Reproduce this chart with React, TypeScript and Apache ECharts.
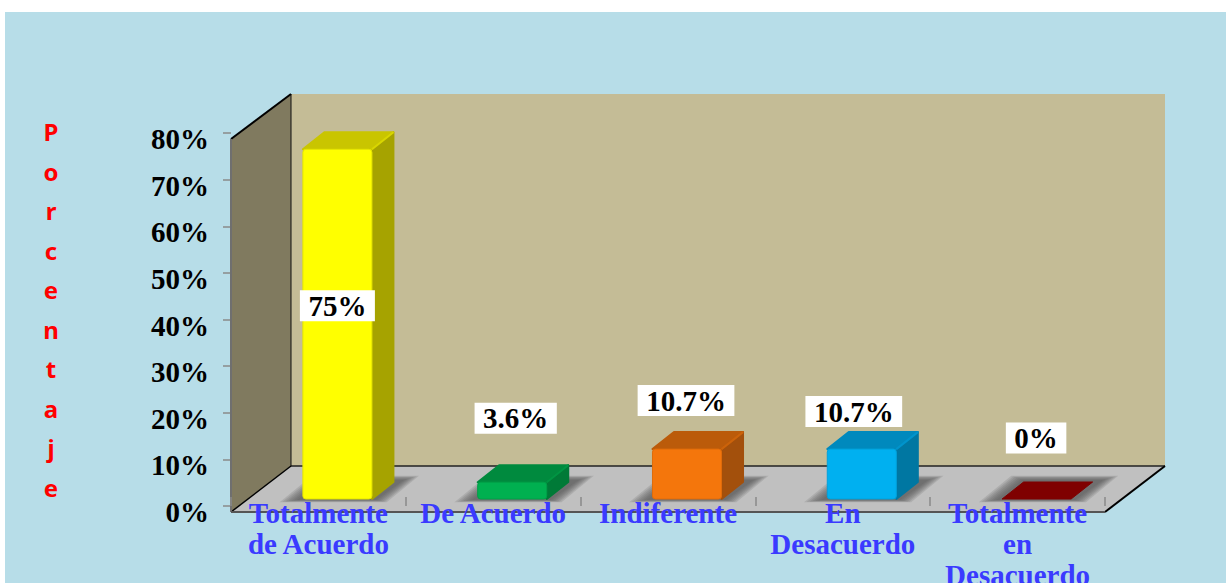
import React, { useEffect, useRef } from "react";
import * as echarts from "echarts";

const categories = [
  "Totalmente\nde Acuerdo",
  "De Acuerdo",
  "Indiferente",
  "En\nDesacuerdo",
  "Totalmente\nen\nDesacuerdo",
];
const percentages = [75, 3.6, 10.7, 10.7, 0];
const yTickMax = 80;
const yTickStep = 10;
const yTitle = "Porcentaje";

const FRONT = ["#ffff00", "#00b050", "#f4760c", "#00b0f0", "#7f0000"];
const TOP = ["#c9c500", "#008a3e", "#bb5b0a", "#0089bd", "#7f0000"];
const SIDE = ["#a6a300", "#007a37", "#a3500c", "#0077a2", "#7f0000"];
const EDGE = ["#e4e400", "#00a048", "#e06c0a", "#00a2dc", "#7f0000"];
// label centre relative to the top-centre of each bar's front face
const LABEL_NUDGE = [[0, 156.5], [3.5, -64], [-1, -48.5], [-8, -37.5], [-0.5, -61]];

const SERIF = '"Liberation Serif", "DejaVu Serif", serif';

function renderScene(params: any, api: any) {
  const g = params.coordSys;
  const x0 = g.x;
  const x1 = g.x + g.width;
  const top = g.y + 6;
  const bottom = g.y + g.height + 6;
  const dx = 60;
  const dy = 46;
  return {
    type: "group",
    children: [
      {
        type: "polygon",
        shape: { points: [[x0, top], [x0 + dx, top - 45], [x0 + dx, bottom - dy], [x0, bottom]] },
        style: { fill: "#807a5f" },
      },
      {
        type: "rect",
        shape: { x: x0 + dx, y: top - 45, width: g.width, height: g.height + 45 - dy },
        style: { fill: "#c4bc96" },
      },
      {
        type: "polygon",
        shape: { points: [[x0, bottom], [x0 + dx, bottom - dy], [x1 + dx, bottom - dy], [x1, bottom]] },
        style: { fill: "#c0c0c0" },
      },
      { type: "line", shape: { x1: x0 + dx, y1: bottom - dy, x2: x1 + dx, y2: bottom - dy }, style: { stroke: "#222", lineWidth: 1.5 } },
      { type: "line", shape: { x1: x0 + dx, y1: top - 45, x2: x0 + dx, y2: bottom - dy }, style: { stroke: "#111", lineWidth: 1 } },
      { type: "line", shape: { x1: x0, y1: top, x2: x0 + dx, y2: top - 45 }, style: { stroke: "#000", lineWidth: 2 } },
      { type: "line", shape: { x1: x0, y1: bottom, x2: x0 + dx, y2: bottom - dy }, style: { stroke: "#000", lineWidth: 1.5 } },
      { type: "line", shape: { x1: x1, y1: bottom, x2: x1 + dx, y2: bottom - dy }, style: { stroke: "#000", lineWidth: 2 } },
      { type: "line", shape: { x1: x0, y1: top, x2: x0, y2: bottom }, style: { stroke: "#6f6f6f", lineWidth: 2 } },
      { type: "line", shape: { x1: x0, y1: bottom, x2: x1, y2: bottom }, style: { stroke: "#555", lineWidth: 2 } },
    ],
  };
}

function softShadow(l: number, r: number, base: number) {
  const layers: any[] = [];
  for (let k = 6; k >= 0; k--) {
    const e = k * 1.8;
    layers.push({
      type: "polygon",
      shape: {
        points: [
          [l - 6 - e * 1.6, base + 1 + e * 0.2],
          [r + 4 + e, base + 1 + e * 0.2],
          [r + 32 + e * 1.4, base - 19 - e * 0.4],
          [l + 20 - e, base - 19 - e * 0.4],
        ],
      },
      style: { fill: "#555555", opacity: 0.17 },
    });
  }
  return layers;
}

function renderBar(params: any, api: any) {
  const i = params.dataIndex;
  const value = api.value(1);
  const band = api.size([1, 0])[0];
  const w = band * 0.395;
  const c = api.coord([i, value]);
  const b = api.coord([i, 0]);
  const fx = c[0] + 19;
  const l = fx - w / 2;
  const r = fx + w / 2;
  const base = b[1] - 7;
  const t = c[1] - 7;
  const dx = 21.5;
  const dy = 17;
  const nudge = LABEL_NUDGE[i];
  const children: any[] = softShadow(l, r, base);
  if (value > 0) {
    children.push(
      {
        type: "polygon",
        shape: { points: [[r, t], [r + dx, t - dy], [r + dx, base - dy], [r, base]] },
        style: { fill: SIDE[i], stroke: SIDE[i], lineWidth: 2, lineJoin: "round" },
      },
      {
        type: "polygon",
        shape: { points: [[l, t], [l + dx, t - dy], [r + dx, t - dy], [r, t]] },
        style: { fill: TOP[i], stroke: TOP[i], lineWidth: 2, lineJoin: "round" },
      },
      {
        type: "line",
        shape: { x1: r, y1: t, x2: r + dx, y2: t - dy },
        style: { stroke: FRONT[i], opacity: 0.3, lineWidth: 2 },
      },
      {
        type: "rect",
        shape: { x: l, y: t, width: w, height: base - t, r: 3 },
        style: { fill: FRONT[i], stroke: EDGE[i], lineWidth: 1 },
      }
    );
  } else {
    children.push({
      type: "polygon",
      shape: { points: [[l, t], [l + dx, t - dy], [r + dx, t - dy], [r, t]] },
      style: { fill: TOP[i], stroke: TOP[i], lineWidth: 1, lineJoin: "round" },
    });
  }
  children.push({
    type: "text",
    x: fx + nudge[0],
    y: t + nudge[1],
    style: {
      text: `${value}%`,
      fill: "#000",
      font: `bold 29px ${SERIF}`,
      align: "center",
      verticalAlign: "middle",
      backgroundColor: "#fff",
      padding: [0, 8.5],
      lineHeight: 31,
    },
  });
  return { type: "group", children };
}

export default function App() {
  const ref = useRef<HTMLDivElement>(null);
  useEffect(() => {
    const chart = echarts.init(ref.current!, null, { renderer: "svg" });
    chart.setOption({
      animation: false,
      backgroundColor: "#fff",
      graphic: [
        {
          type: "rect",
          z: -10,
          silent: true,
          shape: { x: 5, y: 12, width: 1221, height: 571 },
          style: { fill: "#b7dde8" },
        },
      ],
      grid: { left: 231, top: 133, width: 874, height: 373, containLabel: false, outerBoundsMode: "none" },
      xAxis: {
        type: "category",
        data: categories,
        offset: 9,
        z: 10,
        axisLine: { show: false },
        axisTick: { show: true, inside: true, length: 9, lineStyle: { color: "#8a8a8a", width: 1.5 } },
        axisLabel: {
          interval: 0,
          margin: -18,
          color: "#3a3aff",
          fontFamily: SERIF,
          fontWeight: "bold",
          fontSize: 29,
          lineHeight: 31,
          hideOverlap: false,
        },
      },
      yAxis: {
        type: "value",
        min: 0,
        max: yTickMax,
        interval: yTickStep,
        name: yTitle.split("").join("\n") + "\n{s| }",
        nameLocation: "middle",
        nameRotate: 0,
        nameGap: 180,
        nameTextStyle: {
          color: "#ff0000",
          fontFamily: '"Noto Sans", sans-serif',
          fontWeight: "bold",
          fontSize: 24,
          lineHeight: 39.5,
          align: "center",
          rich: { s: { fontSize: 10, lineHeight: 20 } },
        },
        splitLine: { show: false },
        axisLine: { show: false },
        axisTick: { show: true, length: 8, lineStyle: { color: "#8a8a8a", width: 1.5 } },
        axisLabel: {
          formatter: "{value}%",
          margin: 22,
          color: "#000",
          fontFamily: SERIF,
          fontWeight: "bold",
          fontSize: 29,
          verticalAlign: "top",
          lineHeight: 12,
        },
      },
      series: [
        {
          type: "custom",
          z: 1,
          silent: true,
          renderItem: renderScene,
          data: [[0, 0]],
          encode: { x: 0, y: 1 },
        },
        {
          type: "custom",
          z: 2,
          silent: true,
          renderItem: renderBar,
          data: percentages.map((v, i) => [i, v]),
          encode: { x: 0, y: 1 },
        },
      ],
    });
    return () => chart.dispose();
  }, []);
  return (
    <div
      ref={ref}
      style={{ position: "fixed", left: 0, top: 0, width: 1226, height: 583 }}
    />
  );
}
